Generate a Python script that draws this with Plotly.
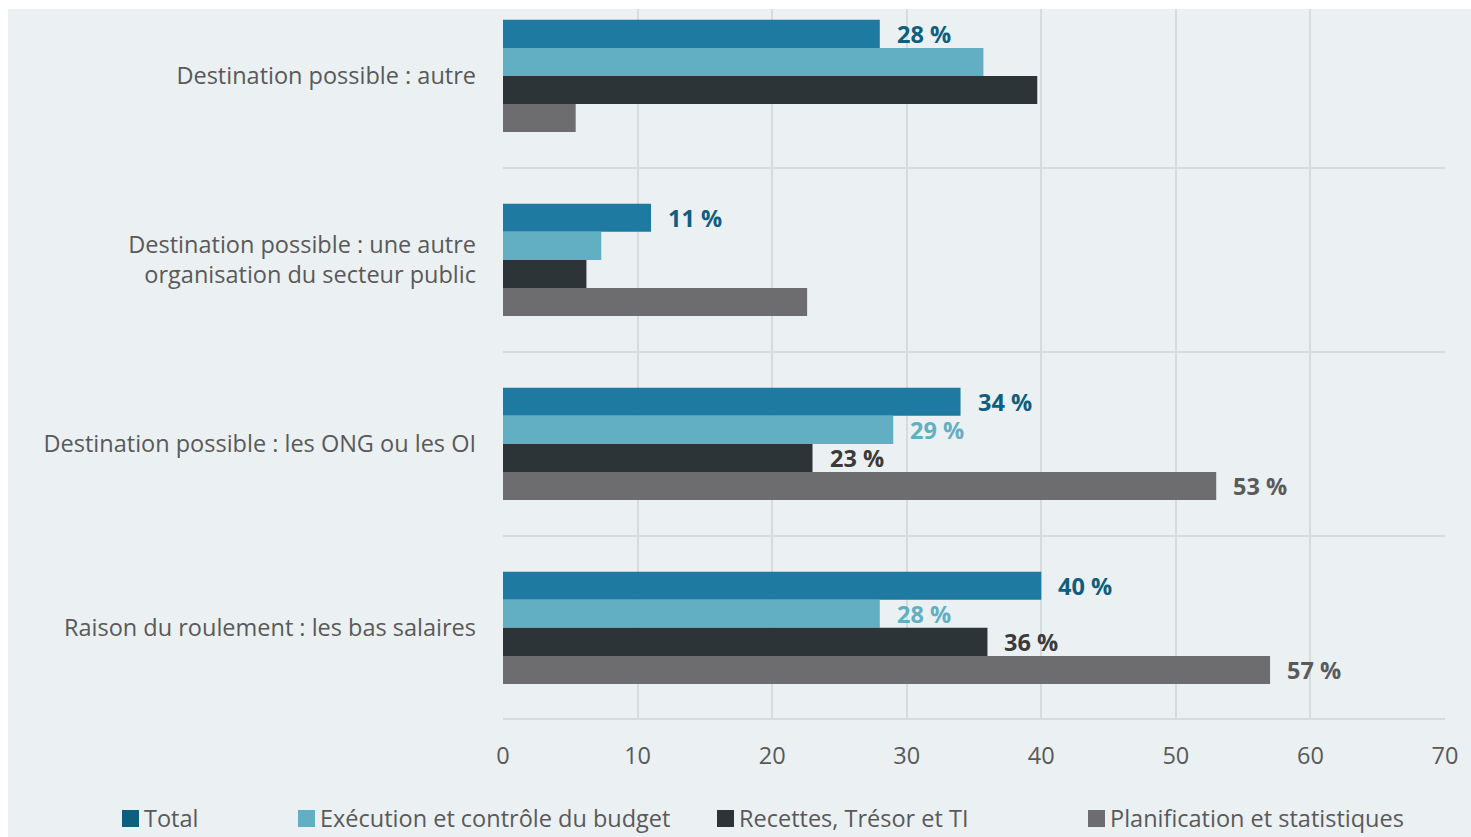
import plotly.graph_objects as go

# Data
categories = [
    "Destination possible : autre",
    "Destination possible : une autre<br>organisation du secteur public",
    "Destination possible : les ONG ou les OI",
    "Raison du roulement : les bas salaires",
]
series_names = [
    "Total",
    "Exécution et contrôle du budget",
    "Recettes, Trésor et TI",
    "Planification et statistiques",
]
total = [28, 11, 34, 40]
execution = [35.7, 7.3, 29, 28]
recettes = [39.7, 6.2, 23, 36]
planification = [5.4, 22.6, 53, 57]

# Which values carry a printed label (per series, per category)
total_labels = [True, True, True, True]
execution_labels = [False, False, True, True]
recettes_labels = [False, False, True, True]
planification_labels = [False, False, True, True]

x_ticks = [0, 10, 20, 30, 40, 50, 60, 70]

# Styling
W, H = 1471, 837
bar_colors = ["#1E7AA0", "#62AFC3", "#2C3437", "#6D6D70"]
legend_colors = ["#0B5F7F", "#62AFC3", "#2C3437", "#6D6D70"]
label_colors = ["#0E5E80", "#62AFC3", "#3A3A3A", "#5A5A5A"]
bg = "#EBF0F3"
grid = "#D8DADC"
text_grey = "#595959"
FONT = "Open Sans"
FS = 23.5

margin = dict(l=503, r=26, t=9, b=119)
plot_w = W - margin["l"] - margin["r"]
plot_h = H - margin["t"] - margin["b"]

def px_x(px):
    return (px - margin["l"]) / plot_w

def px_y(py):
    return 1 - (py - margin["t"]) / plot_h

y_pos = list(range(len(categories)))
values = [total, execution, recettes, planification]
has_label = [total_labels, execution_labels, recettes_labels, planification_labels]

bargap = 0.39
n_series = len(values)
bar_w = (1 - bargap) / n_series

fig = go.Figure()
for i, (name, vals) in enumerate(zip(series_names, values)):
    fig.add_trace(go.Bar(
        y=y_pos, x=vals, name=name, orientation="h",
        marker=dict(color=bar_colors[i], line=dict(width=0)),
        showlegend=False,
    ))

annotations = []
for i, vals in enumerate(values):
    offset = -(1 - bargap) / 2 + bar_w * (i + 0.5)
    for j, v in enumerate(vals):
        if has_label[i][j]:
            annotations.append(dict(
                x=v, y=y_pos[j] + offset, xref="x", yref="y",
                text=f"<b>{v:g} %</b>", showarrow=False,
                xanchor="left", yanchor="middle", xshift=15,
                font=dict(family=FONT, size=FS, color=label_colors[i]),
            ))

# Legend drawn as squares + captions along the bottom
legend_x = [122, 298, 717, 1088]
legend_y = 818
shapes = []
for i, name in enumerate(series_names):
    x0 = legend_x[i]
    shapes.append(dict(
        type="rect", xref="paper", yref="paper",
        x0=px_x(x0), x1=px_x(x0 + 17), y0=px_y(legend_y - 8), y1=px_y(legend_y + 9),
        fillcolor=legend_colors[i], line=dict(width=0),
    ))
    annotations.append(dict(
        x=px_x(x0 + 20), y=px_y(legend_y), xref="paper", yref="paper",
        text=name, showarrow=False, xanchor="left", yanchor="middle",
        font=dict(family=FONT, size=FS, color=text_grey),
    ))

# White frame around the panel
shapes.append(dict(type="rect", xref="paper", yref="paper", layer="below",
                   x0=px_x(0), x1=px_x(W), y0=px_y(0), y1=px_y(9),
                   fillcolor="white", line=dict(width=0)))
shapes.append(dict(type="rect", xref="paper", yref="paper", layer="below",
                   x0=px_x(0), x1=px_x(8), y0=px_y(0), y1=px_y(H),
                   fillcolor="white", line=dict(width=0)))

fig.update_layout(
    width=W, height=H, margin=margin,
    paper_bgcolor=bg, plot_bgcolor=bg,
    barmode="group", bargap=bargap, bargroupgap=0,
    font=dict(family=FONT, size=FS, color=text_grey),
    annotations=annotations, shapes=shapes,
    xaxis=dict(
        range=[0, 70], tickvals=x_ticks, ticktext=[str(t) for t in x_ticks],
        showgrid=True, gridcolor=grid, gridwidth=2, zeroline=False,
        showline=True, linecolor=grid, linewidth=2,
        ticks="", ticklabelstandoff=16,
        tickfont=dict(family=FONT, size=FS, color=text_grey),
        fixedrange=True,
    ),
    yaxis=dict(
        range=[3.49, -0.364], tickvals=y_pos, ticktext=categories,
        showgrid=False, zeroline=False, showline=False, ticks="",
        ticklabelstandoff=26,
        tickfont=dict(family=FONT, size=FS, color=text_grey),
        minor=dict(tickvals=[0.5, 1.5, 2.5], showgrid=True, gridcolor=grid, gridwidth=2),
        fixedrange=True,
    ),
)

fig.write_html("out.html", config={"displayModeBar": False})
